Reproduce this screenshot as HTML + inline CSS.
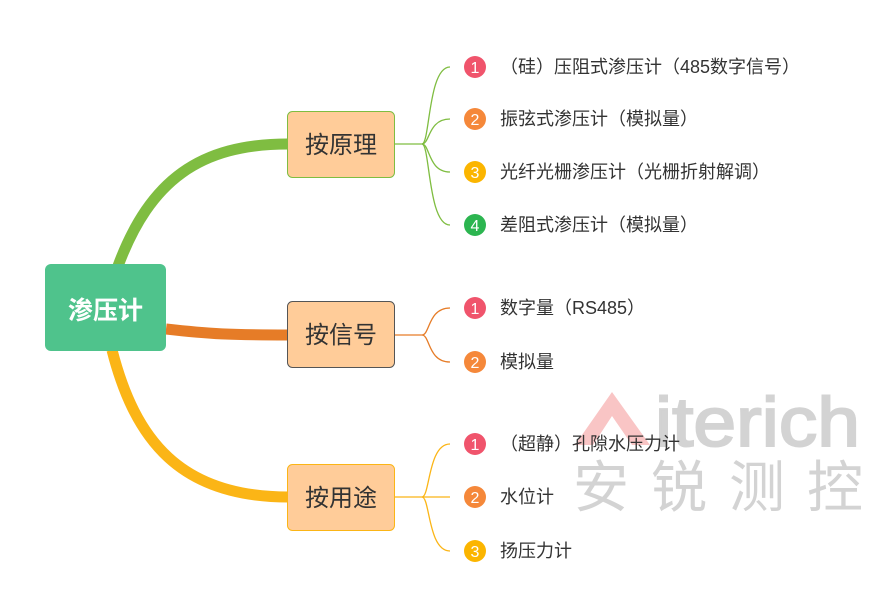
<!DOCTYPE html>
<html><head><meta charset="utf-8"><style>
body{margin:0;background:#fff;width:885px;height:615px;overflow:hidden}
svg{display:block}
text{font-family:"Liberation Sans","Noto Sans CJK SC",sans-serif}
</style></head><body>
<svg width="885" height="615" viewBox="0 0 885 615" xmlns="http://www.w3.org/2000/svg">
<!-- watermark -->
<polygon points="575,445 612,392 650,445 632,445 612,416 593,445" fill="#f9c5c5"/>
<text x="655" y="446" font-size="70" fill="#d3d3d3" textLength="205" lengthAdjust="spacingAndGlyphs" stroke="#d3d3d3" stroke-width="2">iterich</text>
<text x="573" y="507" font-size="56" fill="#d3d3d3" letter-spacing="22">安锐测控</text>
<!-- main curves -->
<path d="M118,266 C150,180 200,144 288,144" stroke="#7fbd41" stroke-width="11" fill="none"/>
<path d="M166,329 C210,334 230,335 288,335" stroke="#e67c27" stroke-width="11" fill="none"/>
<path d="M112,350 C135,440 180,497 288,497" stroke="#fbb516" stroke-width="11" fill="none"/>
<!-- root -->
<rect x="45" y="264" width="121" height="87" rx="6" fill="#4fc38c"/>
<text x="105.5" y="319" font-size="25" font-weight="bold" fill="#fff" text-anchor="middle">渗压计</text>
<!-- branch nodes -->
<rect x="287.5" y="111.5" width="107" height="66" rx="5" fill="#ffcc99" stroke="#7fbd41"/>
<text x="341" y="153" font-size="24" fill="#333" text-anchor="middle">按原理</text>
<rect x="287.5" y="301.5" width="107" height="66" rx="5" fill="#ffcc99" stroke="#555"/>
<text x="341" y="343" font-size="24" fill="#333" text-anchor="middle">按信号</text>
<rect x="287.5" y="464.5" width="107" height="66" rx="5" fill="#ffcc99" stroke="#fbb516"/>
<text x="341" y="506" font-size="24" fill="#333" text-anchor="middle">按用途</text>
<!-- sub connectors -->
<g fill="none" stroke-width="1.3">
<g stroke="#7fbd41">
<path d="M395,144 H422"/>
<path d="M422,144 C430,144 428,67 450,67"/>
<path d="M422,144 C430,144 428,119 450,119"/>
<path d="M422,144 C430,144 428,172 450,172"/>
<path d="M422,144 C430,144 428,225 450,225"/>
</g>
<g stroke="#e67c27">
<path d="M395,335 H422"/>
<path d="M422,335 C430,335 428,308 450,308"/>
<path d="M422,335 C430,335 428,362 450,362"/>
</g>
<g stroke="#fbb516">
<path d="M395,497 H422"/>
<path d="M422,497 C430,497 428,444 450,444"/>
<path d="M422,497 H450"/>
<path d="M422,497 C430,497 428,551 450,551"/>
</g>
</g>
<!-- bullets -->
<g font-size="16" fill="#fff" text-anchor="middle">
<circle cx="475" cy="67" r="11" fill="#f0546c"/><text x="475" y="73">1</text>
<circle cx="475" cy="119" r="11" fill="#f5883a"/><text x="475" y="125">2</text>
<circle cx="475" cy="172" r="11" fill="#fbb500"/><text x="475" y="178">3</text>
<circle cx="475" cy="225" r="11" fill="#2cb550"/><text x="475" y="231">4</text>
<circle cx="475" cy="308" r="11" fill="#f0546c"/><text x="475" y="314">1</text>
<circle cx="475" cy="362" r="11" fill="#f5883a"/><text x="475" y="368">2</text>
<circle cx="475" cy="444" r="11" fill="#f0546c"/><text x="475" y="450">1</text>
<circle cx="475" cy="497" r="11" fill="#f5883a"/><text x="475" y="503">2</text>
<circle cx="475" cy="551" r="11" fill="#fbb500"/><text x="475" y="557">3</text>
</g>
<g font-size="18" fill="#333">
<text x="500" y="73">（硅）压阻式渗压计（485数字信号）</text>
<text x="500" y="125">振弦式渗压计（模拟量）</text>
<text x="500" y="178">光纤光栅渗压计（光栅折射解调）</text>
<text x="500" y="231">差阻式渗压计（模拟量）</text>
<text x="500" y="314">数字量（RS485）</text>
<text x="500" y="368">模拟量</text>
<text x="500" y="450">（超静）孔隙水压力计</text>
<text x="500" y="503">水位计</text>
<text x="500" y="557">扬压力计</text>
</g>
</svg>
</body></html>
